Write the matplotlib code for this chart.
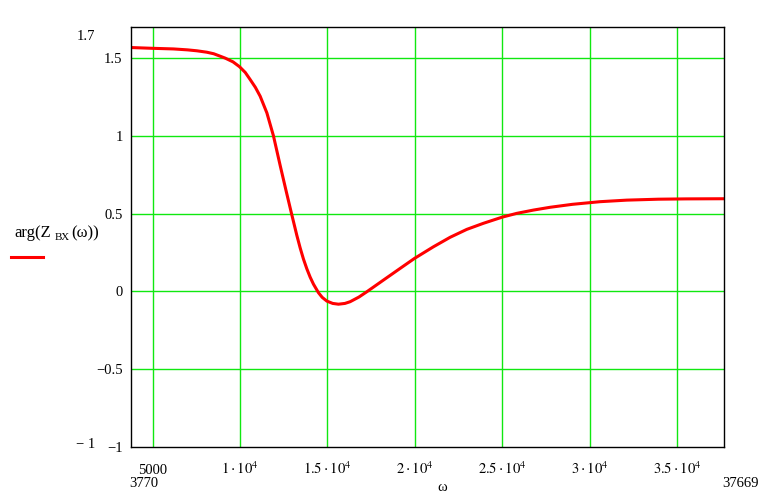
import matplotlib
matplotlib.use("Agg")
import matplotlib.pyplot as plt

# values (Mathcad style plot)
omega = [3770, 5000, 6200, 7000, 7537, 8100, 8500, 9154, 9600, 9971, 10300,
         10583, 10880, 11154, 11537, 11914, 12297, 12640, 12926, 13251, 13440,
         13629, 13823, 14011, 14200, 14486, 14700, 14966, 15300, 15629, 16000,
         16297, 16800, 17251, 18200, 19154, 19971, 21057, 22011, 22966, 23914,
         25000, 25823, 26771, 27726, 29000, 30583, 32109, 33914, 35500, 37669]
phase = [1.568, 1.563, 1.559, 1.553, 1.547, 1.538, 1.528, 1.500, 1.476, 1.445, 1.408,
         1.362, 1.312, 1.255, 1.148, 1.000, 0.810, 0.645, 0.510, 0.360, 0.280,
         0.208, 0.145, 0.092, 0.047, -0.008, -0.038, -0.062, -0.077, -0.082, -0.077,
         -0.066, -0.036, -0.002, 0.073, 0.148, 0.212, 0.287, 0.348, 0.399, 0.438,
         0.478, 0.502, 0.523, 0.541, 0.560, 0.577, 0.587, 0.593, 0.595, 0.596]

x_ticks = [5000, 10000, 15000, 20000, 25000, 30000, 35000]
x_labels = ["5000", r"$1\cdot10^{4}$", r"$1.5\cdot10^{4}$", r"$2\cdot10^{4}$",
            r"$2.5\cdot10^{4}$", r"$3\cdot10^{4}$", r"$3.5\cdot10^{4}$"]
y_ticks = [-1, -0.5, 0, 0.5, 1, 1.5]
y_labels = ["\u22121", "\u22120.5", "0", "0.5", "1", "1.5"]
x_min, x_max = 3770, 37669
y_min, y_max = -1, 1.7

plt.rcParams['font.family'] = ['Liberation Serif', 'DejaVu Serif']
plt.rcParams['mathtext.fontset'] = 'stix'

W, H = 781, 493
green = "#10e810"

def fx(px):
    return px / W

def fy(py):
    return 1 - py / H

fig = plt.figure(figsize=(W / 100, H / 100), dpi=100)
ax = fig.add_axes([fx(131), fy(447), (724 - 131) / W, (447 - 27) / H])

ax.plot(omega, phase, color="#ff0000", lw=2.2, solid_joinstyle="round")
ax.set_xlim(x_min, x_max)
ax.set_ylim(y_min, y_max)

for xv in x_ticks:
    ax.axvline(xv, color=green, lw=1.0, zorder=0)
for yv in y_ticks[1:]:
    ax.axhline(yv, color=green, lw=1.0, zorder=0)

for s in ax.spines.values():
    s.set_color("black")
    s.set_linewidth(1.0)

ax.set_yticks(y_ticks)
ax.set_yticklabels(y_labels, fontsize=10.5)
ax.tick_params(axis="y", length=0, pad=6)
ax.set_xticks([])

# x tick labels on a common baseline
for xv, lab in zip(x_ticks, x_labels):
    fig.text(fx(131 + (xv - x_min) * (724 - 131) / (x_max - x_min)), fy(474),
             lab, ha="center", va="baseline", fontsize=10.5)

# axis limits, Mathcad style
fig.text(fx(129), fy(487), "3770", ha="left", va="baseline", fontsize=10.5)
fig.text(fx(722), fy(487), "37669", ha="left", va="baseline", fontsize=10.5)
fig.text(fx(95), fy(36), "1.7", ha="right", va="center", fontsize=10.5)
fig.text(fx(95), fy(444), "\u2212 1", ha="right", va="center", fontsize=10.5)
fig.text(fx(442), fy(491), "\u03c9", ha="center", va="baseline", fontsize=10.5)

# y axis label: arg(Z_вх(ω)) built from pieces
fig.canvas.draw()
r = fig.canvas.get_renderer()
x0 = 14
base = 237
t1 = fig.text(fx(x0), fy(base), "arg(Z", ha="left", va="baseline", fontsize=12)
x0 = t1.get_window_extent(r).x1 + 4
t2 = fig.text(fx(x0), fy(base + 3), "ВХ", ha="left", va="baseline", fontsize=8)
x0 = t2.get_window_extent(r).x1 + 1
fig.text(fx(x0), fy(base), "(\u03c9))", ha="left", va="baseline", fontsize=12)

# legend line sample
fig.add_artist(plt.Line2D([fx(11), fx(43)], [fy(257), fy(257)],
                          color="#ff0000", lw=2.2))

fig.savefig("out.png", dpi=100)
